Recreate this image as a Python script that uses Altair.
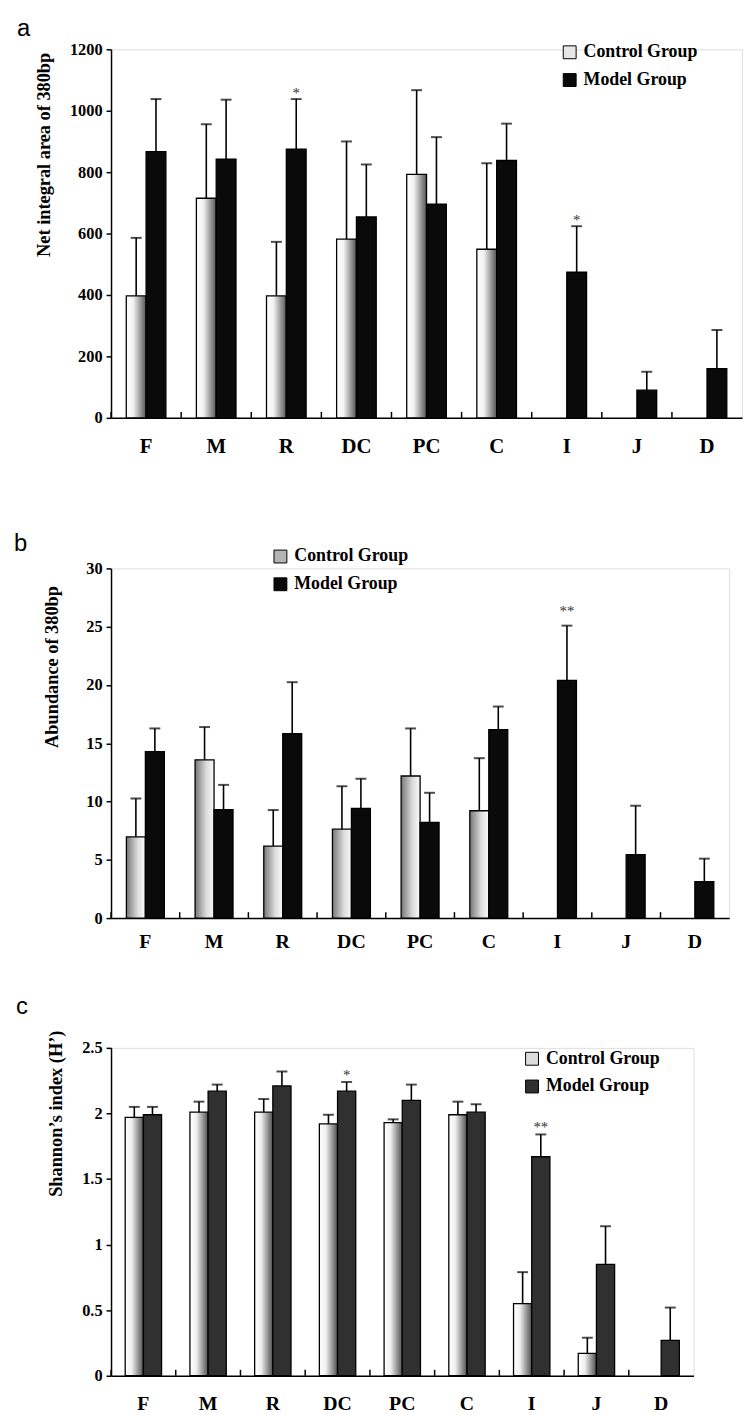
import altair as alt
import pandas as pd

cats = ["F", "M", "R", "DC", "PC", "C", "I", "J", "D"]
groups = ["Control Group", "Model Group"]

# Panel a: Net integral area of 380bp
a_ctrl = [397, 715, 397, 582, 793, 549, None, None, None]
a_ctrl_sd = [189, 241, 176, 318, 274, 280, None, None, None]
a_model = [867, 842, 875, 654, 696, 838, 474, 90, 160]
a_model_sd = [171, 194, 163, 171, 218, 120, 150, 60, 126]
a_sig = ["", "", "*", "", "", "", "*", "", ""]

# Panel b: Abundance of 380bp
b_ctrl = [6.97, 13.58, 6.18, 7.63, 12.19, 9.21, None, None, None]
b_ctrl_sd = [3.29, 2.81, 3.09, 3.68, 4.08, 4.51, None, None, None]
b_model = [14.29, 9.30, 15.82, 9.41, 8.22, 16.16, 20.39, 5.44, 3.12]
b_model_sd = [1.98, 2.13, 4.42, 2.55, 2.53, 1.99, 4.70, 4.20, 1.98]
b_sig = ["", "", "", "", "", "", "**", "", ""]

# Panel c: Shannon's index (H')
c_ctrl = [1.97, 2.01, 2.01, 1.92, 1.93, 1.99, 0.55, 0.17, None]
c_ctrl_sd = [0.08, 0.08, 0.10, 0.07, 0.025, 0.10, 0.24, 0.12, None]
c_model = [1.99, 2.17, 2.21, 2.17, 2.10, 2.01, 1.67, 0.85, 0.27]
c_model_sd = [0.06, 0.05, 0.11, 0.07, 0.12, 0.06, 0.17, 0.29, 0.25]
c_sig = ["", "", "", "*", "", "", "**", "", ""]

a_yticks = [0, 200, 400, 600, 800, 1000, 1200]
b_yticks = [0, 5, 10, 15, 20, 25, 30]
c_yticks = [0, 0.5, 1, 1.5, 2, 2.5]

SERIF = "Liberation Serif"
SANS = "Liberation Sans"


def grad(stops):
    return alt.Gradient(
        gradient="linear",
        stops=[alt.GradientStop(color=c, offset=o) for o, c in stops],
        x1=0, y1=0, x2=1, y2=0,
    )


def panel(letter, ctrl, ctrl_sd, model, model_sd, sig, ymax, yticks,
          ytitle, W, H, ctrl_fill, model_fill, legend_cols, legend_x, legend_y,
          title_x, title_y, title_dx, title_offset, title_lh, sig_dy,
          xlabel_size, xlabel_pad, pad_outer):
    rows = []
    for i, c in enumerate(cats):
        if ctrl[i] is not None:
            rows.append(dict(cat=c, group=groups[0], value=ctrl[i],
                             top=ctrl[i] + ctrl_sd[i], sig=""))
        rows.append(dict(cat=c, group=groups[1], value=model[i],
                         top=model[i] + model_sd[i], sig=sig[i]))
    df = pd.DataFrame(rows)

    x = alt.X(
        "cat:N",
        sort=cats,
        scale=alt.Scale(domain=cats, paddingInner=0, paddingOuter=0),
        axis=alt.Axis(
            title=None, ticks=False, labelAngle=0, labelFont=SERIF,
            labelFontSize=xlabel_size, labelFontWeight="bold", labelColor="black",
            labelPadding=xlabel_pad, domainColor="black", domainWidth=1.5,
            grid=False,
        ),
    )
    xo = alt.XOffset(
        "group:N", sort=groups,
        scale=alt.Scale(domain=groups, paddingInner=0, paddingOuter=pad_outer),
    )
    y = alt.Y(
        "value:Q",
        scale=alt.Scale(domain=[0, ymax], nice=False, zero=True),
        axis=alt.Axis(
            values=yticks, format="~r", title=ytitle, grid=False,
            tickSize=5, tickWidth=1.5, tickColor="black", domainColor="black",
            domainWidth=1.5, labelFont=SERIF, labelFontSize=16.5,
            labelFontWeight="bold", labelColor="black", labelPadding=4,
            titleFont=SERIF, titleFontSize=18.5, titleFontWeight="bold",
            titleColor="black", titleX=title_x, titleY=title_y,
            titleAngle=270, titleAlign="center", titleBaseline="middle",
        ),
    )

    base = alt.Chart(df)
    ctrl_bars = base.transform_filter(f"datum.group == '{groups[0]}'").mark_bar(
        fill=ctrl_fill, stroke="black", strokeWidth=1.3
    ).encode(x=x, xOffset=xo, y=y)
    model_bars = base.transform_filter(f"datum.group == '{groups[1]}'").mark_bar(
        fill=model_fill, stroke="black", strokeWidth=1.3
    ).encode(x=x, xOffset=xo, y=y)

    err = base.mark_rule(color="black", strokeWidth=1.6).encode(
        x=x, xOffset=xo, y="value:Q", y2="top:Q"
    )
    caps = base.mark_tick(color="black", thickness=2, size=11).encode(
        x=x, xOffset=xo, y=alt.Y("top:Q")
    )
    stars = base.transform_filter("datum.sig != ''").mark_text(
        font=SERIF, fontSize=15, color="#333333", dy=sig_dy, baseline="middle"
    ).encode(x=x, xOffset=xo, y=alt.Y("top:Q"), text="sig:N")

    inner_ticks = base.transform_filter(f"datum.group == '{groups[1]}'").mark_rule(
        color="black", strokeWidth=1.5
    ).encode(
        x=alt.X("cat:N", sort=cats, bandPosition=0),
        y=alt.value(H - 6), y2=alt.value(H),
    )

    legend = base.mark_square(opacity=0).encode(
        x=x, xOffset=xo, y=y,
        color=alt.Color(
            "group:N",
            scale=alt.Scale(domain=groups, range=legend_cols),
            legend=alt.Legend(
                orient="none", legendX=legend_x, legendY=legend_y, title=None,
                symbolType="square", symbolSize=169, symbolOpacity=1,
                symbolStrokeColor="black", symbolStrokeWidth=1,
                labelFont=SERIF, labelFontSize=18, labelFontWeight="bold",
                labelColor="black", rowPadding=10, labelOffset=5,
            ),
        ),
    )

    text = letter if title_lh is None else ["", letter]
    tparams = dict(anchor="start", font=SANS, fontSize=24, fontWeight="normal",
                   color="black", dx=title_dx, offset=title_offset)
    if title_lh is not None:
        tparams["lineHeight"] = title_lh

    return alt.layer(
        ctrl_bars, model_bars, err, caps, stars, inner_ticks, legend
    ).properties(
        width=W, height=H,
        title=alt.TitleParams(text, **tparams),
    )


fill_a = grad([(0, "#ffffff"), (0.35, "#f2f2f2"), (1, "#555555")])
fill_b = grad([(0, "#777777"), (0.6, "#dcdcdc"), (1, "#fafafa")])
fill_c = grad([(0, "#ffffff"), (0.35, "#f0f0f0"), (1, "#505050")])

pa = panel("a", a_ctrl, a_ctrl_sd, a_model, a_model_sd, a_sig, 1200, a_yticks,
           "Net integral area of 380bp",
           637, 372, fill_a, "#0a0a0a", ["#e6e6e6", "#0a0a0a"], 454, -6,
           -68, 106, -18, 0, None, -6, 21, 18, 0.77)
pb = panel("b", b_ctrl, b_ctrl_sd, b_model, b_model_sd, b_sig, 30, b_yticks,
           "Abundance of 380bp",
           624, 353, fill_b, "#0a0a0a", ["#b4b4b4", "#0a0a0a"], 162, -21,
           -60, 99, -29, -8, 32, -15, 20, 14, 0.81)
pc = panel("c", c_ctrl, c_ctrl_sd, c_model, c_model_sd, c_sig, 2.5, c_yticks,
           "Shannon\u2019s index (H\u2019)",
           588, 331, fill_c, "#303030", ["#dcdcdc", "#303030"], 416, 2,
           -56, 66, -31, 11.5, None, -7, 20, 18, 0.78)

chart = alt.vconcat(pa, pb, pc, spacing=42).resolve_scale(
    color="independent", x="independent", y="independent", xOffset="independent"
).properties(
    padding={"top": 2, "left": 5, "right": 5, "bottom": 5}
).configure_view(strokeWidth=0).configure(background="white")

chart.save("out.html", embed_options={"renderer": "svg", "actions": False})
